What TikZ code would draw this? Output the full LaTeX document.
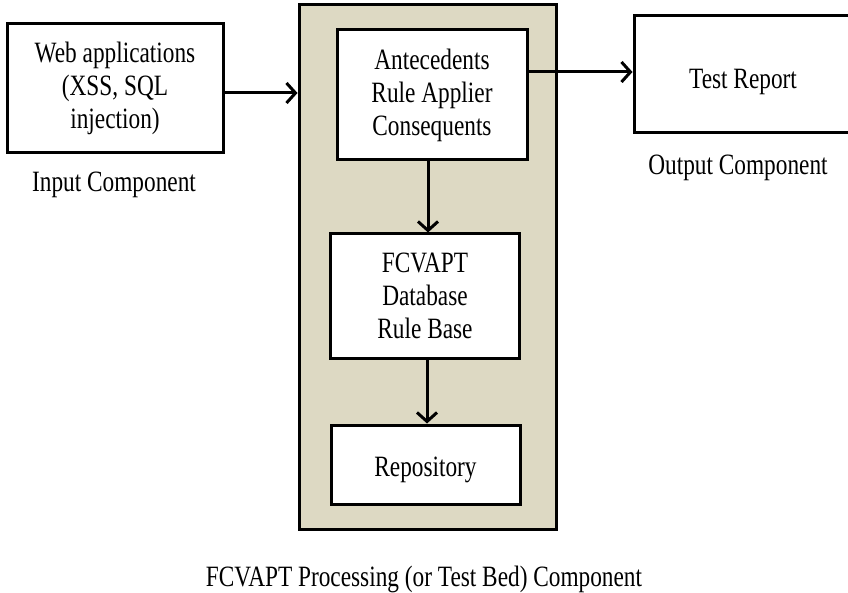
\documentclass[tikz,border=0pt]{standalone}
\usepackage{fontspec}
\setmainfont{Liberation Serif}[FakeStretch=0.79]
\usetikzlibrary{arrows.meta}
\definecolor{tanbg}{HTML}{DDD9C3}
\tikzset{
  box/.style={draw=black, line width=3pt, fill=white, align=center, inner sep=0pt,
    font=\fontsize{29.5}{33}\selectfont},
  lbl/.style={font=\fontsize{29.5}{33}\selectfont, inner sep=0pt},
  arr/.style={line width=3pt, -{Straight Barb[length=9pt,width=20pt,line width=3pt]}}
}
\begin{document}
\begin{tikzpicture}[x=1pt,y=-1pt]
\useasboundingbox (0,0) rectangle (848,593);
% container
\node[draw=black, line width=3pt, fill=tanbg, minimum width=257pt, minimum height=524pt, inner sep=0pt] (cont) at (427.5,267) {};
% boxes
\node[box, minimum width=216pt, minimum height=129pt] (in) at (115,88.5) {Web applications\\(XSS, SQL\\injection)};
\node[box, minimum width=190pt, minimum height=130pt] (ant) at (432,95) {Antecedents\\Rule Applier\\Consequents};
\node[box, minimum width=218pt, minimum height=117pt] (rep) at (743,74.5) {\raisebox{-14pt}[0pt][0pt]{Test Report}};
\node[box, minimum width=189pt, minimum height=124pt] (fc) at (425,296) {FCVAPT\\Database\\Rule Base};
\node[box, minimum width=189pt, minimum height=79pt] (repo) at (425.5,464.5) {\raisebox{-12pt}[0pt][0pt]{Repository}};
% labels
\node[lbl] (inl) at (114,185) {Input Component};
\node[lbl] (outl) at (738,168) {Output Component};
\node[lbl] (capl) at (424,579) {FCVAPT Processing (or Test Bed) Component};
% arrows
\draw[arr] ([yshift=-4.5pt]in.east) -- ([yshift=-4.5pt]in.east -| cont.west);
\draw[arr] ([yshift=23pt]ant.east) -- ([yshift=23pt]ant.east -| rep.west);
\draw[arr] ([xshift=3pt]fc.north |- ant.south) -- ([xshift=3pt]fc.north);
\draw[arr] ([xshift=2pt]fc.south) -- ([xshift=2pt]fc.south |- repo.north);
\end{tikzpicture}
\end{document}
